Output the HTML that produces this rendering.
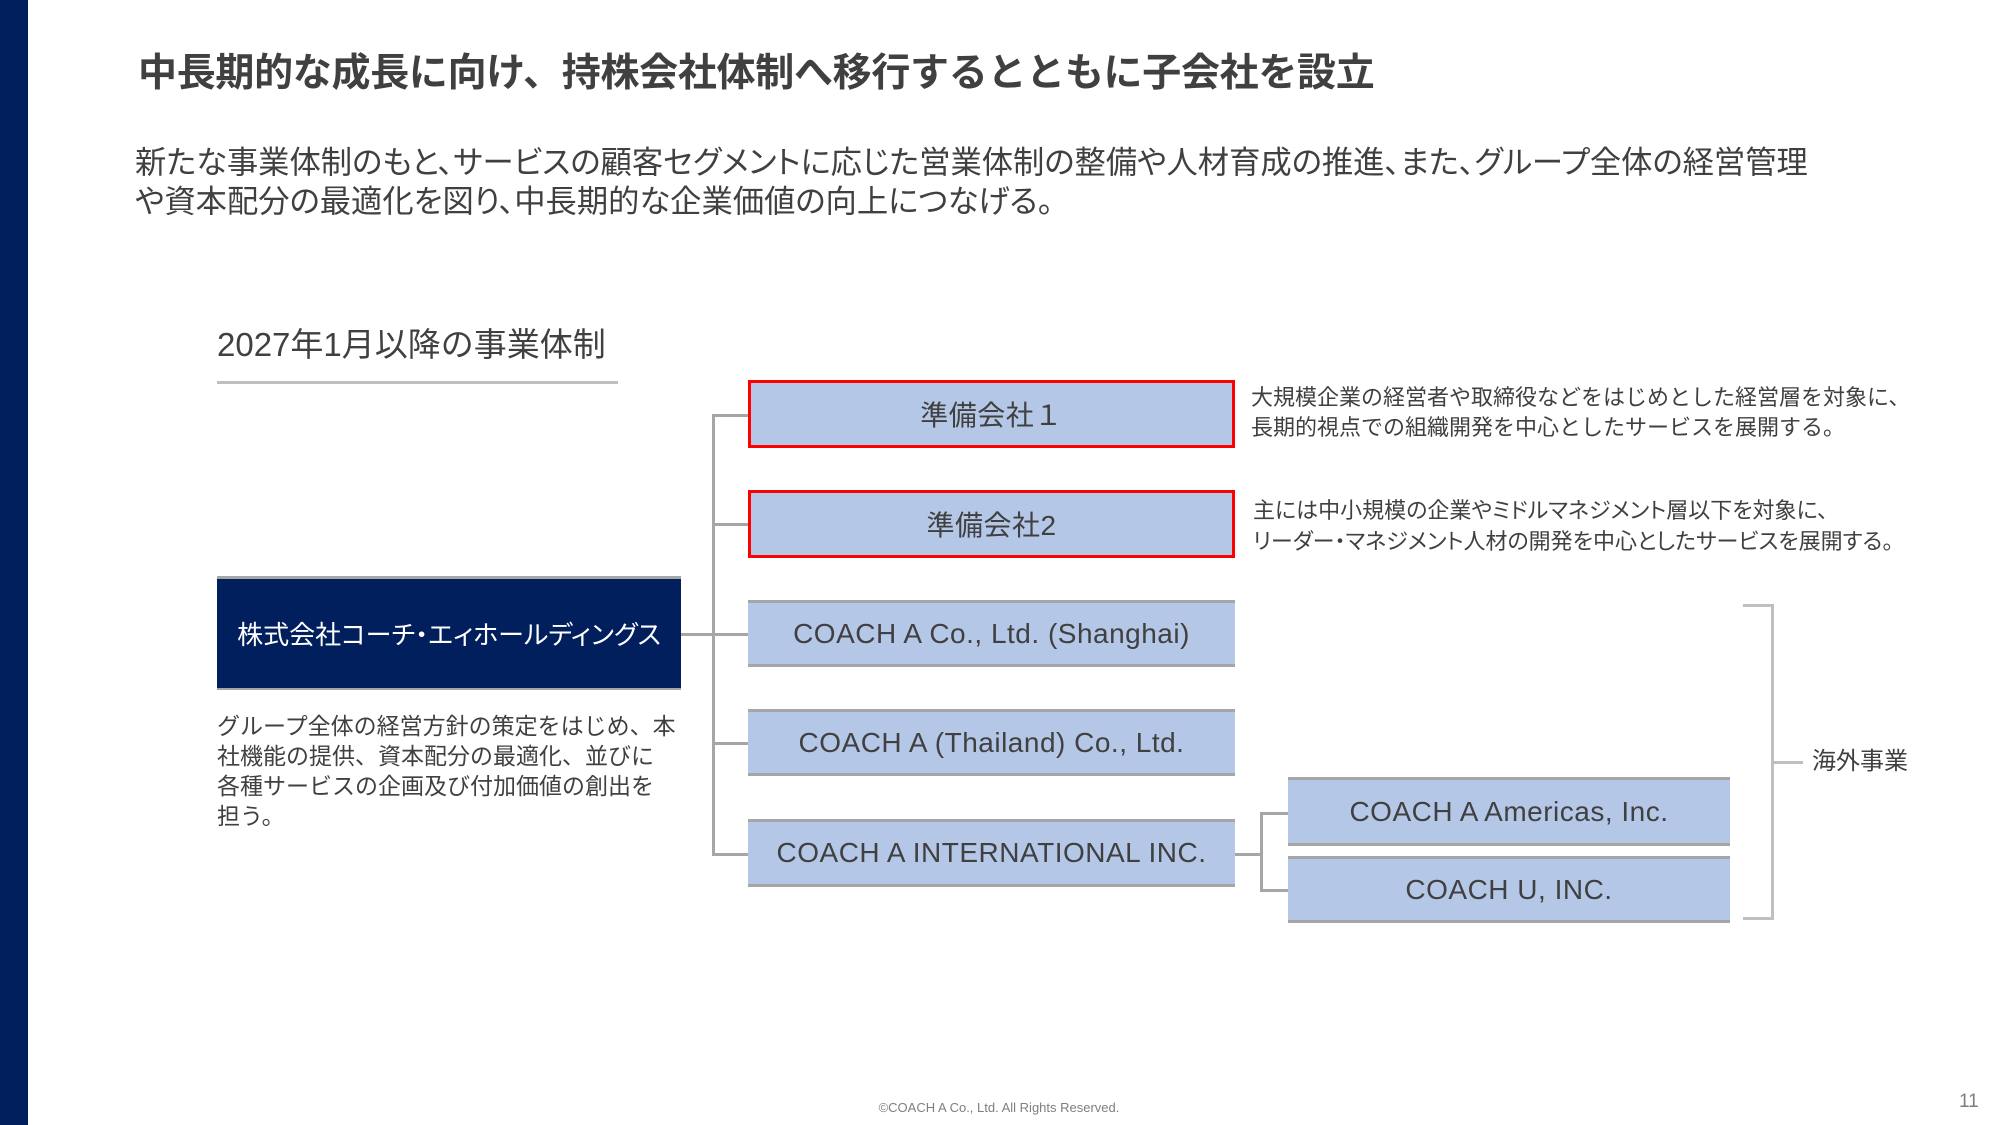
<!DOCTYPE html>
<html><head><meta charset="utf-8"><style>
*{margin:0;padding:0;box-sizing:border-box}
body{width:2001px;height:1125px;background:#fff;position:relative;overflow:hidden;font-family:"Liberation Sans","Noto Sans CJK JP",sans-serif;color:#404040}
.a{position:absolute;white-space:nowrap}
.p{font-feature-settings:"palt"}
.box{position:absolute;background:#b4c7e7;border-top:3px solid #a6a6a6;border-bottom:3px solid #a6a6a6;display:flex;align-items:center;justify-content:center;font-size:28px;color:#404040;letter-spacing:0.5px}
.red{border:3px solid #ff0000}
.l{position:absolute;background:#a6a6a6}
</style></head><body>
<div class="a" style="left:0;top:0;width:28px;height:1125px;background:#001f5c"></div>
<div class="a" style="left:138px;top:50px;font-size:39px;font-weight:bold;color:#404040;line-height:48px;letter-spacing:-0.3px">中長期的な成長に向け、持株会社体制へ移行するとともに子会社を設立</div>
<div class="a p" style="left:135px;top:143px;font-size:31.3px;line-height:39px">新たな事業体制のもと、サービスの顧客セグメントに応じた営業体制の整備や人材育成の推進、また、グループ全体の経営管理<br>や資本配分の最適化を図り、中長期的な企業価値の向上につなげる。</div>
<div class="a" style="left:217px;top:324px;font-size:33px;line-height:42px">2027年1月以降の事業体制</div>
<div class="a" style="left:217px;top:381px;width:401px;height:3px;background:#bfbfbf"></div>

<div class="l" style="left:712px;top:414px;width:3px;height:442px"></div>
<div class="l" style="left:712px;top:414px;width:36px;height:3px"></div>
<div class="l" style="left:712px;top:523px;width:36px;height:3px"></div>
<div class="l" style="left:681px;top:633px;width:67px;height:3px"></div>
<div class="l" style="left:712px;top:742px;width:36px;height:3px"></div>
<div class="l" style="left:712px;top:853px;width:36px;height:3px"></div>
<div class="l" style="left:1235px;top:853px;width:27px;height:3px"></div>
<div class="l" style="left:1260px;top:812px;width:3px;height:80px"></div>
<div class="l" style="left:1260px;top:812px;width:28px;height:3px"></div>
<div class="l" style="left:1260px;top:889px;width:28px;height:3px"></div>

<div class="l" style="left:1743px;top:604px;width:31px;height:3px;background:#bfbfbf"></div>
<div class="l" style="left:1771px;top:604px;width:3px;height:316px;background:#bfbfbf"></div>
<div class="l" style="left:1743px;top:917px;width:31px;height:3px;background:#bfbfbf"></div>
<div class="l" style="left:1771px;top:761px;width:32px;height:3px;background:#bfbfbf"></div>
<div class="a" style="left:1812px;top:746px;font-size:24px;line-height:32px">海外事業</div>

<div class="a p" style="left:217px;top:576px;width:464px;height:114px;background:#001f5c;border-top:3px solid #a6a6a6;border-bottom:2px solid #a6a6a6;color:#fff;font-size:26px;display:flex;align-items:center;justify-content:center">株式会社コーチ・エィホールディングス</div>
<div class="a" style="left:217px;top:711px;font-size:23px;line-height:30px">グループ全体の経営方針の策定をはじめ、本<br>社機能の提供、資本配分の最適化、並びに<br>各種サービスの企画及び付加価値の創出を<br>担う。</div>

<div class="box red" style="left:748px;top:380px;width:487px;height:68px">準備会社１</div>
<div class="box red" style="left:748px;top:490px;width:487px;height:68px">準備会社2</div>
<div class="box" style="left:748px;top:600px;width:487px;height:67px">COACH A Co., Ltd. (Shanghai)</div>
<div class="box" style="left:748px;top:709px;width:487px;height:67px">COACH A (Thailand) Co., Ltd.</div>
<div class="box" style="left:748px;top:819px;width:487px;height:68px">COACH A INTERNATIONAL INC.</div>
<div class="box" style="left:1288px;top:777px;width:442px;height:69px">COACH A Americas, Inc.</div>
<div class="box" style="left:1288px;top:856px;width:442px;height:67px">COACH U, INC.</div>

<div class="a" style="left:1251px;top:383px;font-size:22px;line-height:30px">大規模企業の経営者や取締役などをはじめとした経営層を対象に、<br>長期的視点での組織開発を中心としたサービスを展開する。</div>
<div class="a p" style="left:1253px;top:495px;font-size:22px;line-height:31px">主には中小規模の企業やミドルマネジメント層以下を対象に、<br>リーダー・マネジメント人材の開発を中心としたサービスを展開する。</div>

<div class="a" style="left:0;width:1998px;text-align:center;top:1100px;font-size:13px;color:#7f7f7f">©COACH A Co., Ltd. All Rights Reserved.</div>
<div class="a" style="left:1959px;top:1091px;font-size:19px;color:#7f7f7f">11</div>
</body></html>
